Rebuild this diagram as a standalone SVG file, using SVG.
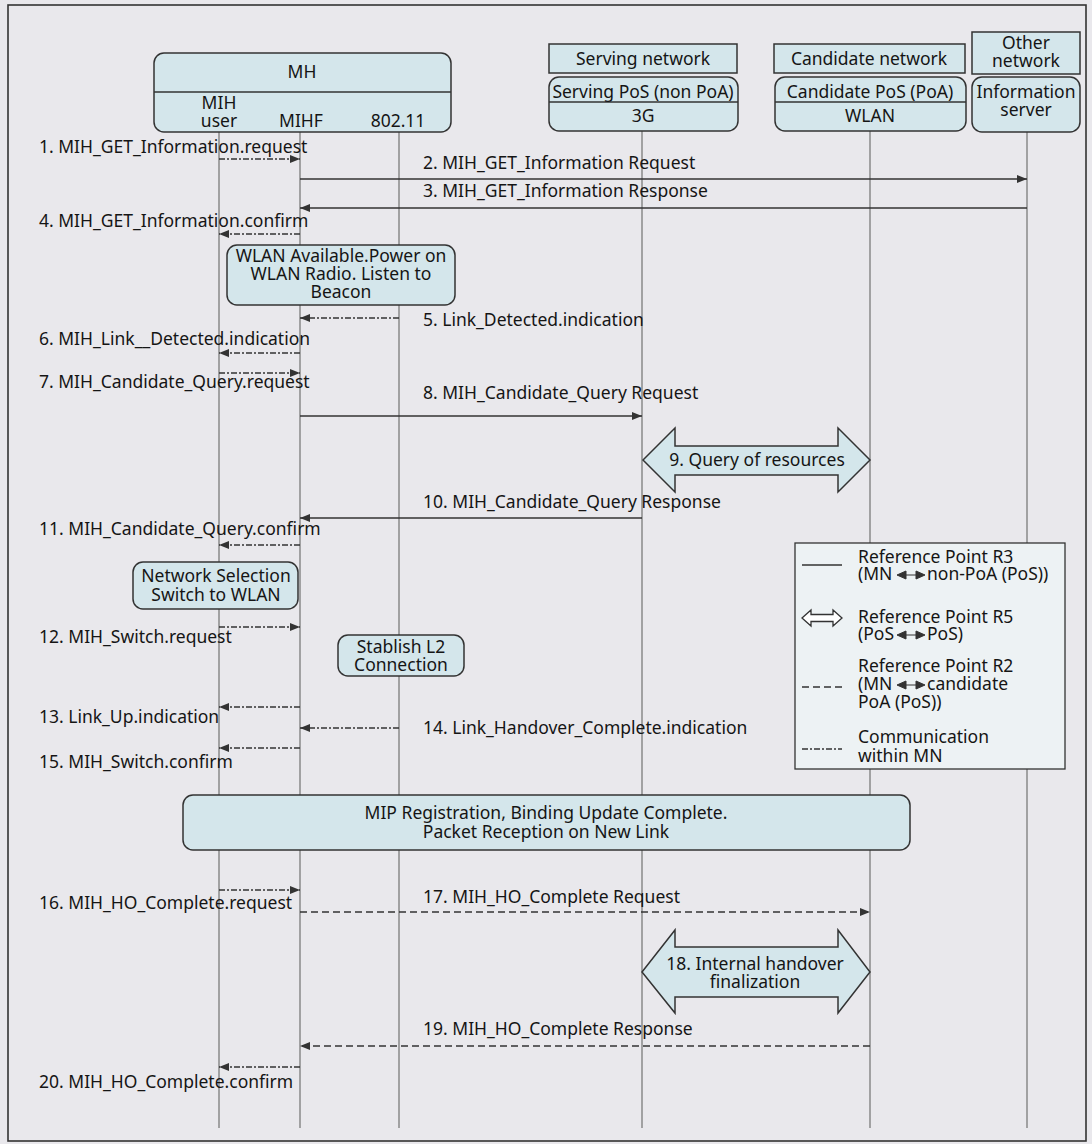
<svg xmlns="http://www.w3.org/2000/svg" width="1092" height="1144" viewBox="0 0 1092 1144">
  <style>
    .t { font-family: "Noto Sans", "Open Sans", sans-serif; font-size: 17.5px; fill: #151515; }
    .c { text-anchor: middle; }
    .box { fill: #d4e6eb; stroke: #333; stroke-width: 1.5; }
    .life { stroke: #7b7b7b; stroke-width: 1.3; }
    .r3 { stroke: #333; stroke-width: 1.3; fill: none; }
    .r2 { stroke: #333; stroke-width: 1.3; fill: none; stroke-dasharray: 7 4; }
    .mn { stroke: #333; stroke-width: 1.3; fill: none; stroke-dasharray: 6 2 2 2; }
    .fat { fill: #d4e6eb; stroke: #333; stroke-width: 1.5; stroke-linejoin: miter; }
    .dbl { fill: #333; stroke: #333; stroke-width: 1; }
  </style>
  <defs>
    <marker id="ah" viewBox="0 0 10 8" refX="10" refY="4" markerWidth="11" markerHeight="8" markerUnits="userSpaceOnUse" orient="auto">
      <path d="M0,0 L10,4 L0,8 z" fill="#333"/>
    </marker>
    <!-- small filled double arrow used inside legend captions -->
    <path id="dblarrow" d="M0,0 L9,-4 L9,4 z M28,0 L19,-4 L19,4 z M8,0 H20"/>
  </defs>

  <!-- page background and frame -->
  <rect x="0" y="0" width="1092" height="1144" fill="#e9e8ec"/>
  <rect x="8" y="5" width="1078" height="1136" fill="none" stroke="#333" stroke-width="1.6"/>

  <!-- lifelines -->
  <g id="lifelines">
    <line class="life" x1="219" y1="132" x2="219" y2="1128"/>
    <line class="life" x1="300" y1="132" x2="300" y2="1128"/>
    <line class="life" x1="399" y1="132" x2="399" y2="1128"/>
    <line class="life" x1="642" y1="131" x2="642" y2="1128"/>
    <line class="life" x1="870" y1="131" x2="870" y2="1128"/>
    <line class="life" x1="1027" y1="132" x2="1027" y2="1128"/>
  </g>

  <!-- mobile host -->
  <g id="mh">
    <rect class="box" x="154" y="53" width="297" height="79" rx="10"/>
    <line x1="154" y1="92" x2="451" y2="92" stroke="#333" stroke-width="1.5"/>
    <text class="t c" x="302" y="78">MH</text>
    <text class="t c" x="219" y="109">MIH<tspan x="219" dy="18">user</tspan></text>
    <text class="t c" x="301" y="127">MIHF</text>
    <text class="t c" x="398" y="127">802.11</text>
  </g>

  <!-- serving network -->
  <g id="serving">
    <rect class="box" x="549" y="44" width="188" height="29"/>
    <text class="t c" x="643" y="65">Serving network</text>
    <rect class="box" x="549" y="77" width="189" height="54" rx="10"/>
    <line x1="549" y1="102" x2="738" y2="102" stroke="#333" stroke-width="1.5"/>
    <text class="t c" x="643" y="98">Serving PoS (non PoA)<tspan x="643" dy="24">3G</tspan></text>
  </g>

  <!-- candidate network -->
  <g id="candidate">
    <rect class="box" x="774" y="44" width="191" height="29"/>
    <text class="t c" x="869" y="65">Candidate network</text>
    <rect class="box" x="775" y="77" width="191" height="54" rx="10"/>
    <line x1="775" y1="102" x2="966" y2="102" stroke="#333" stroke-width="1.5"/>
    <text class="t c" x="870" y="98">Candidate PoS (PoA)<tspan x="870" dy="24">WLAN</tspan></text>
  </g>

  <!-- other network -->
  <g id="other">
    <rect class="box" x="972" y="32" width="108" height="42"/>
    <text class="t c" x="1026" y="49">Other<tspan x="1026" dy="18">network</tspan></text>
    <rect class="box" x="972" y="77" width="108" height="55" rx="10"/>
    <text class="t c" x="1026" y="98">Information<tspan x="1026" dy="18">server</tspan></text>
  </g>

  <!-- message connectors -->
  <g id="connectors">
    <line class="mn" x1="219" y1="159" x2="300" y2="159" marker-end="url(#ah)"/>
    <line class="r3" x1="300" y1="179" x2="1027" y2="179" marker-end="url(#ah)"/>
    <line class="r3" x1="1027" y1="208" x2="300" y2="208" marker-end="url(#ah)"/>
    <line class="mn" x1="300" y1="234" x2="219" y2="234" marker-end="url(#ah)"/>
    <line class="mn" x1="399" y1="318" x2="300" y2="318" marker-end="url(#ah)"/>
    <line class="mn" x1="300" y1="353" x2="219" y2="353" marker-end="url(#ah)"/>
    <line class="mn" x1="219" y1="373" x2="300" y2="373" marker-end="url(#ah)"/>
    <line class="r3" x1="300" y1="416" x2="642" y2="416" marker-end="url(#ah)"/>
    <line class="r3" x1="642" y1="518" x2="300" y2="518" marker-end="url(#ah)"/>
    <line class="mn" x1="300" y1="545" x2="219" y2="545" marker-end="url(#ah)"/>
    <line class="mn" x1="219" y1="627" x2="300" y2="627" marker-end="url(#ah)"/>
    <line class="mn" x1="300" y1="707" x2="219" y2="707" marker-end="url(#ah)"/>
    <line class="mn" x1="399" y1="728" x2="300" y2="728" marker-end="url(#ah)"/>
    <line class="mn" x1="300" y1="748" x2="219" y2="748" marker-end="url(#ah)"/>
    <line class="mn" x1="219" y1="890" x2="300" y2="890" marker-end="url(#ah)"/>
    <line class="r2" x1="300" y1="912" x2="870" y2="912" marker-end="url(#ah)"/>
    <line class="r2" x1="870" y1="1046" x2="300" y2="1046" marker-end="url(#ah)"/>
    <line class="mn" x1="300" y1="1067" x2="219" y2="1067" marker-end="url(#ah)"/>
  </g>

  <!-- message labels -->
  <g id="labels">
    <text class="t" x="39" y="153">1. MIH_GET_Information.request</text>
    <text class="t" x="423" y="169">2. MIH_GET_Information Request</text>
    <text class="t" x="423" y="197">3. MIH_GET_Information Response</text>
    <text class="t" x="39" y="227">4. MIH_GET_Information.confirm</text>
    <text class="t" x="423" y="326">5. Link_Detected.indication</text>
    <text class="t" x="39" y="345">6. MIH_Link__Detected.indication</text>
    <text class="t" x="39" y="388">7. MIH_Candidate_Query.request</text>
    <text class="t" x="423" y="399">8. MIH_Candidate_Query Request</text>
    <text class="t" x="423" y="508">10. MIH_Candidate_Query Response</text>
    <text class="t" x="39" y="535">11. MIH_Candidate_Query.confirm</text>
    <text class="t" x="39" y="643">12. MIH_Switch.request</text>
    <text class="t" x="39" y="723">13. Link_Up.indication</text>
    <text class="t" x="423" y="734">14. Link_Handover_Complete.indication</text>
    <text class="t" x="39" y="768">15. MIH_Switch.confirm</text>
    <text class="t" x="423" y="903">17. MIH_HO_Complete Request</text>
    <text class="t" x="39" y="909">16. MIH_HO_Complete.request</text>
    <text class="t" x="423" y="1035">19. MIH_HO_Complete Response</text>
    <text class="t" x="39" y="1088">20. MIH_HO_Complete.confirm</text>
  </g>

  <!-- activity notes -->
  <g id="wlan-available">
    <rect class="box" x="227" y="245" width="228" height="60" rx="10"/>
    <text class="t c" x="341" y="262">WLAN Available.Power on<tspan x="341" dy="18">WLAN Radio. Listen to</tspan><tspan x="341" dy="18">Beacon</tspan></text>
  </g>
  <g id="query-resources">
    <polygon class="fat" points="643,460 675,428 675,446 838,446 838,428 870,460 838,492 838,475 675,475 675,492"/>
    <text class="t c" x="757" y="466">9. Query of resources</text>
  </g>
  <g id="network-selection">
    <rect class="box" x="133" y="562" width="165" height="47" rx="10"/>
    <text class="t c" x="216" y="582">Network Selection<tspan x="216" dy="19">Switch to WLAN</tspan></text>
  </g>
  <g id="l2-connection">
    <rect class="box" x="338" y="635" width="126" height="41" rx="10"/>
    <text class="t c" x="401" y="653">Stablish L2<tspan x="401" dy="18">Connection</tspan></text>
  </g>
  <g id="mip-registration">
    <rect class="box" x="183" y="795" width="727" height="55" rx="10"/>
    <text class="t c" x="546" y="819">MIP Registration, Binding Update Complete.<tspan x="546" dy="19">Packet Reception on New Link</tspan></text>
  </g>
  <g id="handover-finalization">
    <polygon class="fat" points="642,972 675,930 675,947 838,947 838,930 870,972 838,1013 838,997 675,997 675,1013"/>
    <text class="t c" x="755" y="970">18. Internal handover<tspan x="755" dy="18">finalization</tspan></text>
  </g>

  <!-- legend -->
  <g id="legend">
    <rect x="795" y="543" width="270" height="226" fill="#edf2f4" stroke="#333" stroke-width="1.3"/>

    <line class="r3" x1="802" y1="565" x2="842" y2="565"/>
    <text class="t" x="858" y="563">Reference Point R3<tspan x="858" dy="17">(MN</tspan><tspan x="927">non-PoA (PoS))</tspan></text>
    <use href="#dblarrow" class="dbl" x="897" y="575"/>

    <polygon points="802,618 811,610 811,614.5 833,614.5 833,610 842,618 833,626 833,621.5 811,621.5 811,626" fill="#fff" stroke="#333" stroke-width="1.3"/>
    <text class="t" x="858" y="623">Reference Point R5<tspan x="858" dy="17">(PoS</tspan><tspan x="927">PoS)</tspan></text>
    <use href="#dblarrow" class="dbl" x="897" y="635"/>

    <line class="r2" x1="802" y1="687" x2="842" y2="687"/>
    <text class="t" x="858" y="672">Reference Point R2<tspan x="858" dy="18">(MN</tspan><tspan x="927">candidate</tspan><tspan x="858" dy="18">PoA (PoS))</tspan></text>
    <use href="#dblarrow" class="dbl" x="897" y="685"/>

    <line class="mn" x1="802" y1="749" x2="842" y2="749"/>
    <text class="t" x="858" y="743">Communication<tspan x="858" dy="19">within MN</tspan></text>
  </g>
</svg>
